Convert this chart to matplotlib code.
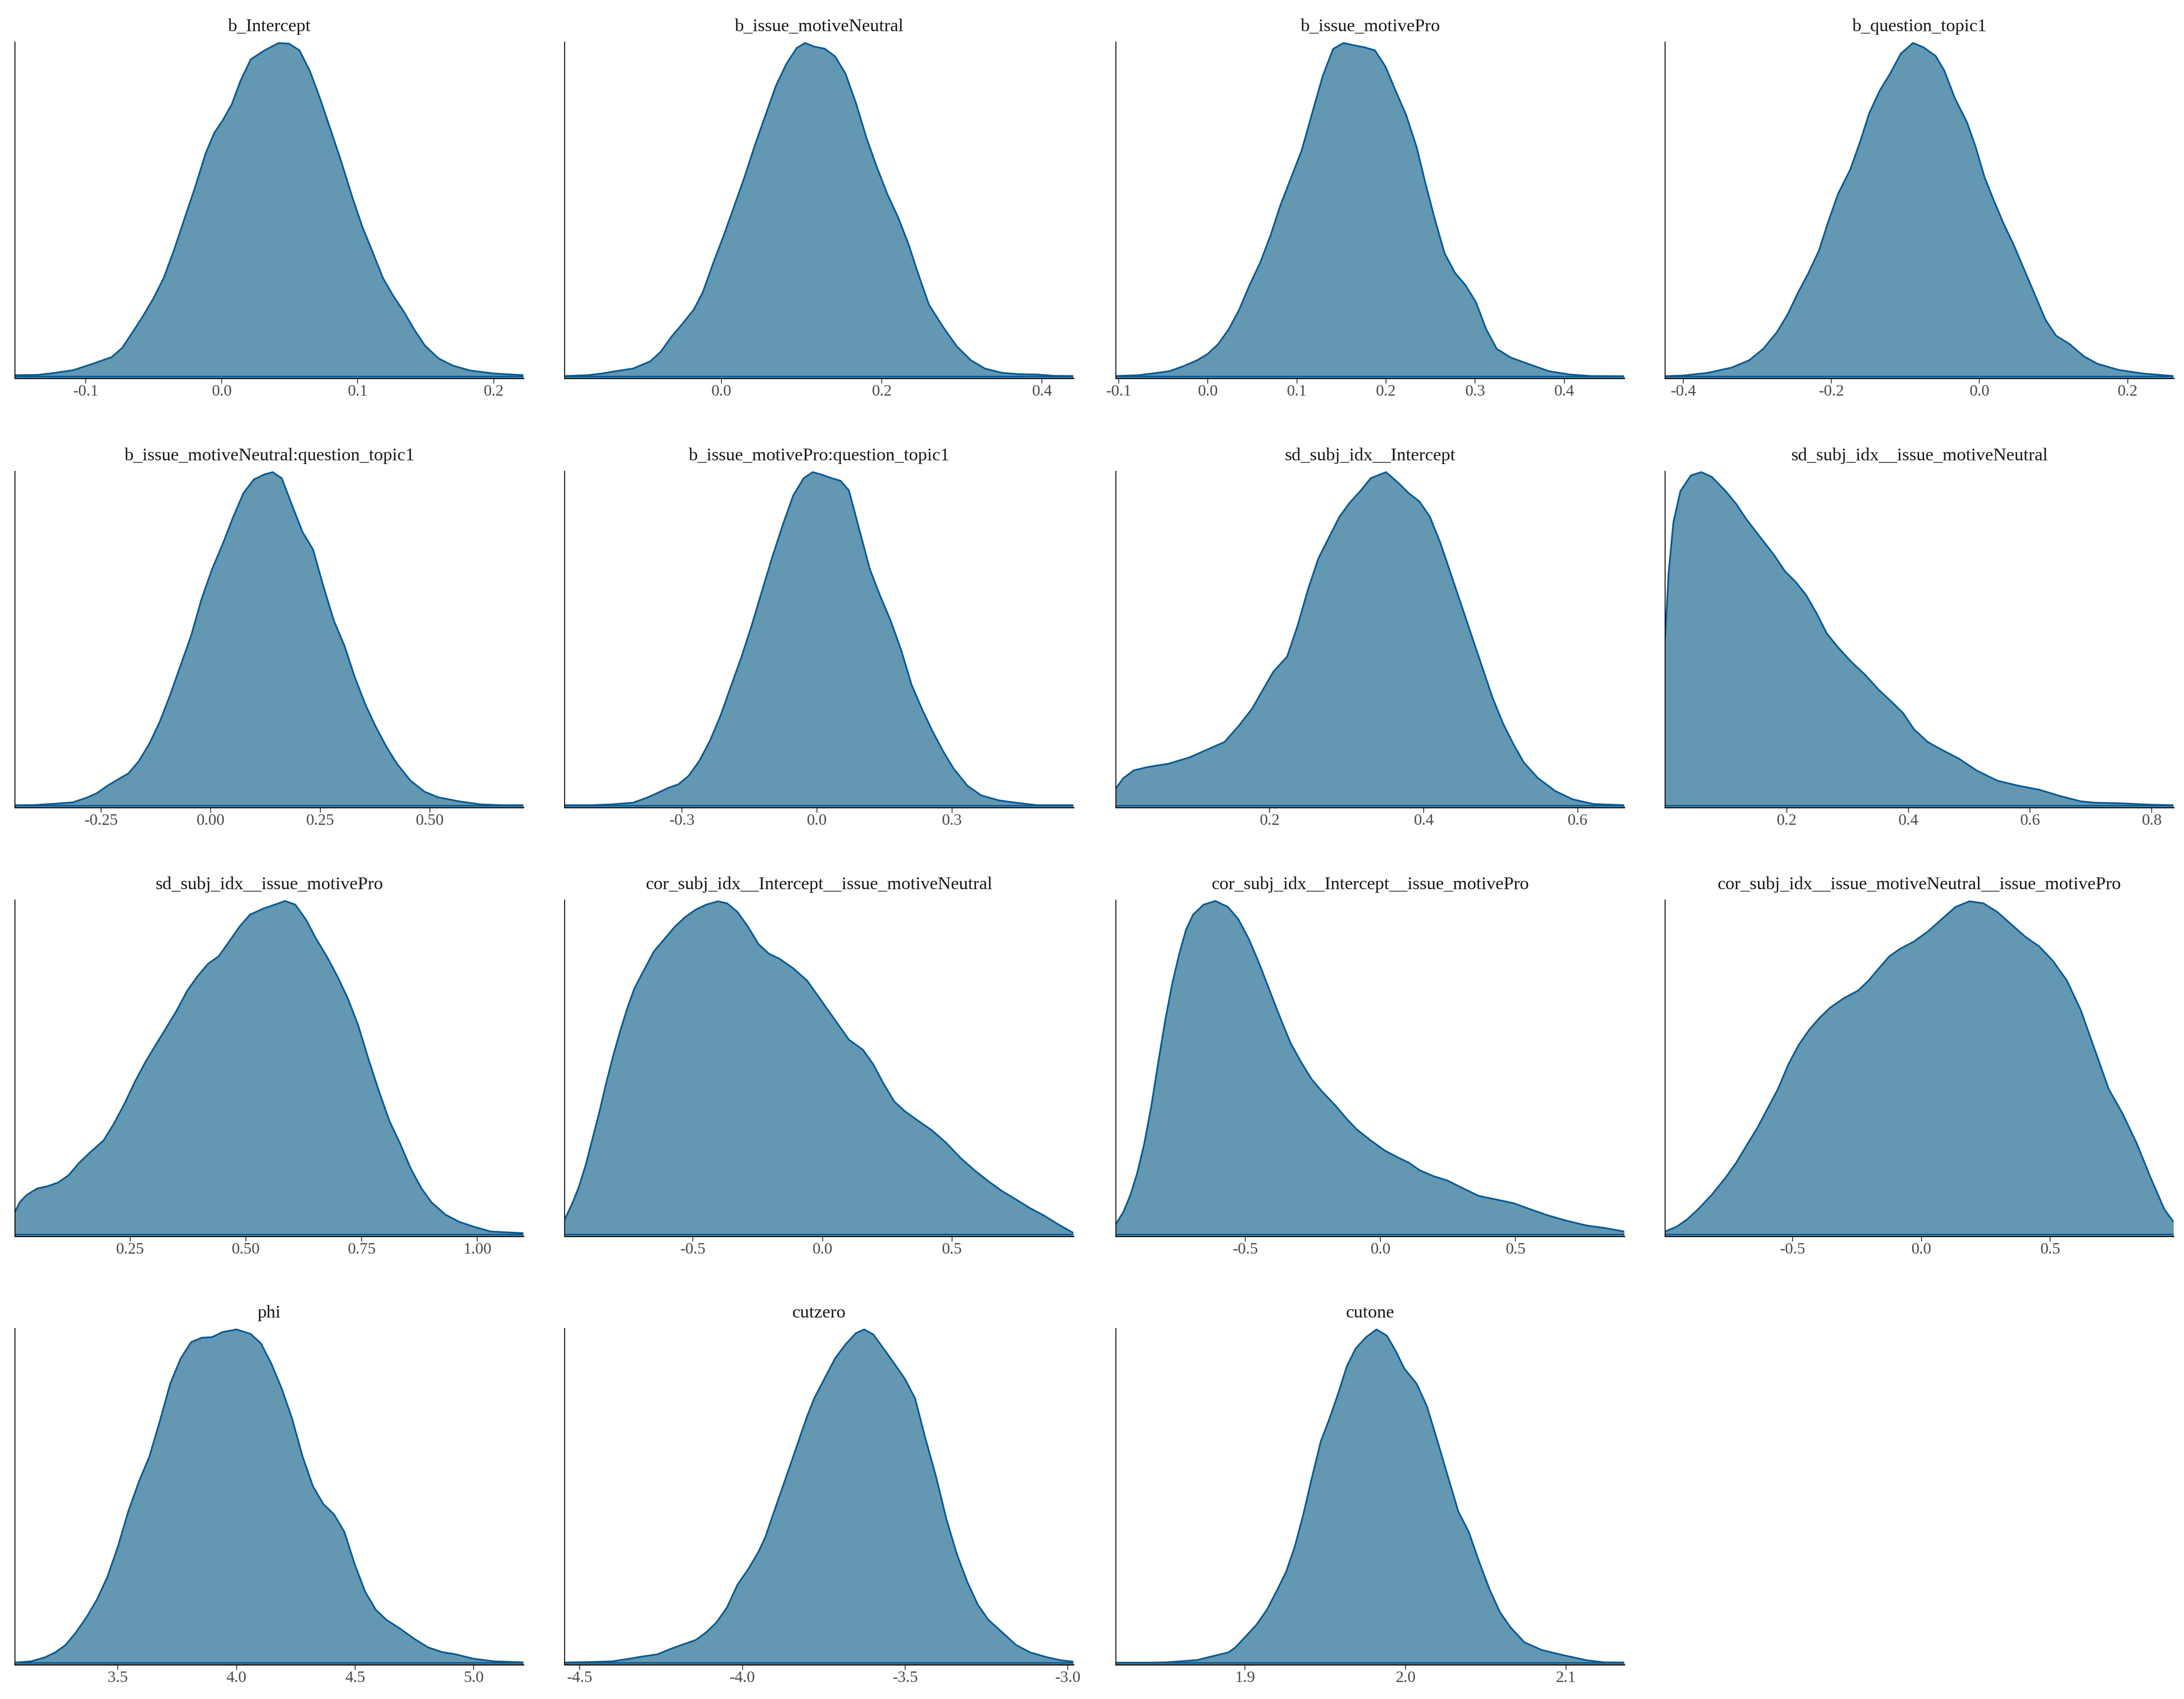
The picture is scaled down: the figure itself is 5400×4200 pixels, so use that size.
import matplotlib
matplotlib.use("Agg")
import matplotlib.pyplot as plt

plt.rcParams['font.family'] = ['Liberation Serif', 'DejaVu Serif']

FILL = "#6497b1"
LINE = "#005b96"

# ---------------- data (x = parameter value, y = relative posterior density) ----------------
b_Intercept_x = [-0.1522, -0.135, -0.1248, -0.1094, -0.0966, -0.0812, -0.0735, -0.0658, -0.0582, -0.0505,
                 -0.0428, -0.0351, -0.0274, -0.0197, -0.012, -0.0056, 0.0008, 0.0072, 0.0136, 0.0213,
                 0.0315, 0.0418, 0.0494, 0.0571, 0.0648, 0.0725, 0.0802, 0.0879, 0.0956, 0.1033,
                 0.111, 0.1186, 0.1263, 0.134, 0.1417, 0.1494, 0.1596, 0.1699, 0.1827, 0.2006, 0.2219]
b_Intercept_y = [0.004, 0.005, 0.01, 0.019, 0.036, 0.058, 0.085, 0.132, 0.18, 0.233,
                 0.295, 0.38, 0.474, 0.567, 0.668, 0.73, 0.769, 0.815, 0.885, 0.951,
                 0.978, 1.0, 0.998, 0.978, 0.916, 0.831, 0.738, 0.644, 0.543, 0.45,
                 0.373, 0.295, 0.241, 0.194, 0.14, 0.093, 0.054, 0.033, 0.018, 0.009, 0.004]

b_issue_motiveNeutral_x = [-0.1957, -0.167, -0.1496, -0.1322, -0.1104, -0.0887, -0.0757, -0.0626, -0.0496, -0.0348,
                           -0.0235, -0.0104, 0.0026, 0.0157, 0.0287, 0.0417, 0.0548, 0.0678, 0.0809, 0.0939,
                           0.1043, 0.1157, 0.1287, 0.1417, 0.1548, 0.1678, 0.1809, 0.1939, 0.207, 0.22,
                           0.233, 0.2461, 0.2591, 0.2765, 0.2939, 0.3113, 0.3287, 0.3504, 0.3722, 0.3939,
                           0.4157, 0.4391]
b_issue_motiveNeutral_y = [0.0015, 0.004, 0.009, 0.016, 0.024, 0.046, 0.075, 0.119, 0.156, 0.2,
                           0.252, 0.34, 0.422, 0.51, 0.598, 0.694, 0.783, 0.871, 0.937, 0.985,
                           1.0, 0.989, 0.983, 0.96, 0.908, 0.82, 0.716, 0.628, 0.547, 0.48,
                           0.4, 0.304, 0.215, 0.149, 0.09, 0.049, 0.024, 0.011, 0.007, 0.006,
                           0.002, 0.0015]

b_issue_motivePro_x = [-0.1031, -0.0781, -0.0625, -0.043, -0.0273, -0.0117, 0.0, 0.0117, 0.0234, 0.0352,
                       0.0469, 0.0586, 0.0703, 0.082, 0.0938, 0.1055, 0.1172, 0.1289, 0.1406, 0.1523,
                       0.1641, 0.1758, 0.1875, 0.1992, 0.2109, 0.2227, 0.2344, 0.2438, 0.2539, 0.2656,
                       0.2773, 0.2891, 0.3008, 0.3125, 0.3242, 0.3398, 0.3594, 0.3828, 0.4063, 0.4297,
                       0.4672]
b_issue_motivePro_y = [0.0015, 0.004, 0.009, 0.016, 0.031, 0.049, 0.068, 0.097, 0.141, 0.2,
                       0.274, 0.34, 0.422, 0.517, 0.598, 0.679, 0.79, 0.9, 0.982, 1.0,
                       0.993, 0.987, 0.978, 0.93, 0.856, 0.783, 0.687, 0.584, 0.48, 0.37,
                       0.311, 0.274, 0.223, 0.141, 0.083, 0.057, 0.038, 0.016, 0.006, 0.0015,
                       0.001]

b_question_topic1_x = [-0.4245, -0.4001, -0.3672, -0.3343, -0.3108, -0.292, -0.2732, -0.2591, -0.2449, -0.2308,
                       -0.2167, -0.205, -0.1909, -0.1744, -0.1603, -0.1486, -0.1345, -0.1204, -0.1063, -0.0898,
                       -0.0757, -0.0592, -0.0475, -0.0334, -0.0169, -0.0052, 0.0066, 0.0183, 0.0324, 0.0465,
                       0.0606, 0.0748, 0.0889, 0.103, 0.1218, 0.1406, 0.1594, 0.1876, 0.2205, 0.2619]
b_question_topic1_y = [0.001, 0.003, 0.011, 0.027, 0.049, 0.083, 0.134, 0.186, 0.252, 0.311,
                       0.378, 0.459, 0.548, 0.621, 0.71, 0.791, 0.858, 0.909, 0.968, 1.0,
                       0.987, 0.961, 0.917, 0.835, 0.762, 0.688, 0.599, 0.533, 0.459, 0.393,
                       0.319, 0.245, 0.171, 0.123, 0.097, 0.061, 0.038, 0.02, 0.009, 0.0015]

b_neutral_topic_x = [-0.4465, -0.402, -0.3544, -0.3146, -0.2829, -0.259, -0.2352, -0.2113, -0.1875, -0.1637,
                     -0.1398, -0.116, -0.0922, -0.0683, -0.0445, -0.0207, 0.0032, 0.027, 0.0509, 0.0747,
                     0.0985, 0.1224, 0.1414, 0.1621, 0.1859, 0.2098, 0.2336, 0.2574, 0.2813, 0.3051,
                     0.3289, 0.3528, 0.3766, 0.4004, 0.4243, 0.4561, 0.4878, 0.5196, 0.5673, 0.615,
                     0.6626, 0.7135]
b_neutral_topic_y = [0.0015, 0.002, 0.006, 0.01, 0.024, 0.038, 0.06, 0.079, 0.097, 0.134,
                     0.186, 0.252, 0.333, 0.422, 0.51, 0.62, 0.709, 0.783, 0.864, 0.937,
                     0.978, 0.993, 1.0, 0.982, 0.9, 0.82, 0.768, 0.657, 0.554, 0.48,
                     0.385, 0.304, 0.237, 0.178, 0.127, 0.075, 0.042, 0.025, 0.013, 0.004,
                     0.0015, 0.0015]

b_pro_topic_x = [-0.5598, -0.501, -0.4546, -0.4082, -0.3773, -0.3541, -0.3309, -0.3077, -0.2845, -0.2613,
                 -0.2381, -0.2149, -0.1917, -0.1685, -0.1454, -0.1222, -0.099, -0.0758, -0.0526, -0.0294,
                 -0.0093, 0.0093, 0.0325, 0.0526, 0.0711, 0.0943, 0.1175, 0.1407, 0.1639, 0.1871,
                 0.2103, 0.2335, 0.2567, 0.2799, 0.3031, 0.334, 0.3649, 0.4036, 0.4422, 0.4886,
                 0.569]
b_pro_topic_y = [0.0015, 0.0015, 0.004, 0.009, 0.024, 0.038, 0.053, 0.064, 0.09, 0.134,
                 0.193, 0.267, 0.355, 0.442, 0.538, 0.643, 0.746, 0.842, 0.93, 0.982,
                 1.0, 0.993, 0.982, 0.974, 0.945, 0.827, 0.709, 0.628, 0.554, 0.466,
                 0.362, 0.289, 0.223, 0.164, 0.112, 0.06, 0.031, 0.016, 0.009, 0.0015,
                 0.0015]

sd_Intercept_x = [0.0, 0.01, 0.0235, 0.0416, 0.0688, 0.0959, 0.1186, 0.1412, 0.1593, 0.1774,
                  0.191, 0.2045, 0.2226, 0.2362, 0.2498, 0.2633, 0.2769, 0.2905, 0.3041, 0.3176,
                  0.3312, 0.3511, 0.3674, 0.381, 0.3946, 0.4081, 0.4217, 0.4353, 0.4489, 0.4624,
                  0.476, 0.4896, 0.5032, 0.5167, 0.5303, 0.5484, 0.571, 0.5937, 0.6208, 0.6606]
sd_Intercept_y = [0.052, 0.083, 0.106, 0.116, 0.126, 0.145, 0.168, 0.191, 0.238, 0.292,
                  0.347, 0.401, 0.447, 0.54, 0.649, 0.742, 0.804, 0.866, 0.909, 0.943,
                  0.982, 1.0, 0.967, 0.936, 0.912, 0.866, 0.788, 0.695, 0.602, 0.509,
                  0.416, 0.323, 0.246, 0.184, 0.129, 0.083, 0.044, 0.019, 0.005, 0.0015]

sd_Neutral_x = [0.0, 0.0057, 0.0137, 0.0252, 0.0424, 0.0595, 0.0767, 0.0996, 0.1168, 0.134,
                0.1569, 0.1798, 0.197, 0.2141, 0.2313, 0.2485, 0.2657, 0.2828, 0.3057, 0.3286,
                0.3515, 0.3744, 0.3916, 0.4088, 0.4317, 0.4546, 0.4832, 0.5118, 0.5462, 0.5806,
                0.6149, 0.6493, 0.6836, 0.7065, 0.7523, 0.7981, 0.8359]
sd_Neutral_y = [0.502, 0.695, 0.85, 0.943, 0.99, 1.0, 0.986, 0.943, 0.905, 0.858,
                0.804, 0.75, 0.703, 0.672, 0.633, 0.579, 0.517, 0.478, 0.432, 0.393,
                0.347, 0.308, 0.277, 0.23, 0.191, 0.168, 0.141, 0.106, 0.075, 0.06,
                0.048, 0.029, 0.013, 0.009, 0.007, 0.003, 0.0015]

sd_Pro_x = [0.0015, 0.012, 0.0271, 0.0497, 0.0723, 0.0949, 0.1175, 0.1401, 0.1627, 0.1928,
            0.2154, 0.238, 0.2605, 0.2831, 0.3057, 0.3283, 0.3509, 0.3735, 0.3961, 0.4187,
            0.4413, 0.4639, 0.4864, 0.509, 0.5392, 0.5648, 0.5843, 0.6069, 0.6295, 0.6521,
            0.6747, 0.6973, 0.7199, 0.7425, 0.7651, 0.7877, 0.8102, 0.8328, 0.8554, 0.878,
            0.9006, 0.9307, 0.9608, 0.991, 1.0286, 1.0994]
sd_Pro_y = [0.068, 0.097, 0.119, 0.138, 0.145, 0.156, 0.178, 0.215, 0.245, 0.282,
            0.333, 0.392, 0.458, 0.517, 0.569, 0.62, 0.672, 0.731, 0.775, 0.812,
            0.834, 0.878, 0.923, 0.959, 0.978, 0.99, 1.0, 0.989, 0.945, 0.886,
            0.834, 0.775, 0.709, 0.628, 0.525, 0.429, 0.34, 0.274, 0.2, 0.141,
            0.097, 0.06, 0.038, 0.024, 0.009, 0.004]

cor_Int_Neutral_x = [-0.9946, -0.9677, -0.9409, -0.914, -0.8871, -0.8602, -0.8333, -0.8065, -0.7796, -0.7527,
                     -0.7258, -0.6909, -0.6505, -0.6102, -0.5699, -0.5296, -0.4892, -0.4489, -0.4032, -0.3683,
                     -0.328, -0.2876, -0.2473, -0.207, -0.1667, -0.1129, -0.0591, -0.0054, 0.0484, 0.1022,
                     0.1559, 0.1962, 0.2366, 0.2769, 0.3172, 0.371, 0.4247, 0.4785, 0.5323, 0.586,
                     0.6398, 0.6935, 0.7473, 0.8011, 0.8548, 0.9086, 0.9677]
cor_Int_Neutral_y = [0.046, 0.09, 0.141, 0.208, 0.289, 0.37, 0.459, 0.54, 0.613, 0.68,
                     0.738, 0.79, 0.849, 0.886, 0.923, 0.952, 0.974, 0.989, 0.999, 0.993,
                     0.967, 0.923, 0.871, 0.842, 0.827, 0.798, 0.761, 0.702, 0.643, 0.584,
                     0.554, 0.51, 0.451, 0.399, 0.37, 0.34, 0.311, 0.274, 0.23, 0.193,
                     0.16, 0.13, 0.105, 0.079, 0.057, 0.031, 0.005]

cor_Int_Pro_x = [-0.9794, -0.951, -0.9253, -0.8995, -0.8737, -0.848, -0.8222, -0.7964, -0.7706, -0.7448,
                 -0.7191, -0.6933, -0.6546, -0.6108, -0.5644, -0.5258, -0.4871, -0.4485, -0.4098, -0.3711,
                 -0.3325, -0.2938, -0.2552, -0.2165, -0.1649, -0.1263, -0.0876, -0.0361, 0.0155, 0.067,
                 0.1057, 0.1443, 0.1959, 0.2474, 0.299, 0.3634, 0.4278, 0.4923, 0.5567, 0.6211,
                 0.6856, 0.7629, 0.8273, 0.902]
cor_Int_Pro_y = [0.031, 0.068, 0.119, 0.186, 0.274, 0.385, 0.517, 0.643, 0.752, 0.841,
                 0.915, 0.959, 0.989, 1.0, 0.982, 0.945, 0.886, 0.812, 0.731, 0.65,
                 0.574, 0.517, 0.466, 0.429, 0.385, 0.348, 0.315, 0.282, 0.252, 0.23,
                 0.215, 0.193, 0.175, 0.162, 0.141, 0.116, 0.105, 0.094, 0.075, 0.057,
                 0.042, 0.027, 0.02, 0.009]

cor_Neutral_Pro_x = [-0.9946, -0.9486, -0.9081, -0.8676, -0.8135, -0.7595, -0.7189, -0.6784, -0.6378, -0.5973,
                     -0.5568, -0.5162, -0.4757, -0.4351, -0.3946, -0.3541, -0.3, -0.2459, -0.2054, -0.1649,
                     -0.1243, -0.0838, -0.0297, 0.0243, 0.0784, 0.1324, 0.1865, 0.2405, 0.2946, 0.3486,
                     0.4027, 0.4568, 0.5108, 0.5649, 0.6189, 0.673, 0.727, 0.7811, 0.8351, 0.8892,
                     0.9432, 0.9784]
cor_Neutral_Pro_y = [0.009, 0.024, 0.046, 0.075, 0.119, 0.171, 0.215, 0.267, 0.318, 0.377,
                     0.436, 0.51, 0.569, 0.614, 0.65, 0.68, 0.709, 0.731, 0.761, 0.798,
                     0.834, 0.856, 0.878, 0.908, 0.945, 0.982, 0.999, 0.993, 0.967, 0.93,
                     0.893, 0.864, 0.82, 0.761, 0.672, 0.554, 0.436, 0.362, 0.274, 0.171,
                     0.075, 0.038]

phi_x = [3.0666, 3.1341, 3.1928, 3.2369, 3.2799, 3.3239, 3.3679, 3.412, 3.456, 3.5,
         3.544, 3.5891, 3.6331, 3.6771, 3.7212, 3.7652, 3.8092, 3.8532, 3.8973, 3.9413,
         4.0, 4.0587, 4.1027, 4.1468, 4.1908, 4.2348, 4.2788, 4.3229, 4.3669, 4.4109,
         4.455, 4.499, 4.543, 4.587, 4.6311, 4.6898, 4.7485, 4.8072, 4.8659, 4.9246,
         4.998, 5.0861, 5.2094]
phi_y = [0.0015, 0.005, 0.017, 0.032, 0.054, 0.092, 0.137, 0.19, 0.258, 0.348,
         0.454, 0.544, 0.619, 0.725, 0.838, 0.913, 0.962, 0.975, 0.977, 0.992,
         1.0, 0.987, 0.959, 0.898, 0.823, 0.732, 0.619, 0.529, 0.476, 0.446,
         0.393, 0.295, 0.213, 0.16, 0.13, 0.103, 0.073, 0.047, 0.033, 0.026,
         0.013, 0.005, 0.002]

cutzero_x = [-4.5457, -4.4644, -4.4002, -4.3467, -4.3039, -4.2611, -4.2183, -4.1755, -4.1434, -4.1113,
             -4.0792, -4.0471, -4.015, -3.9829, -3.9508, -3.9294, -3.908, -3.8866, -3.8652, -3.8438,
             -3.8224, -3.801, -3.7796, -3.7475, -3.7154, -3.6833, -3.6512, -3.6255, -3.5977, -3.5656,
             -3.5335, -3.5014, -3.4693, -3.4372, -3.4051, -3.373, -3.3409, -3.3088, -3.2767, -3.2446,
             -3.2018, -3.159, -3.1162, -3.0627, -3.0199, -2.9835]
cutzero_y = [0.0015, 0.003, 0.005, 0.013, 0.02, 0.026, 0.043, 0.058, 0.069, 0.092,
             0.122, 0.167, 0.235, 0.28, 0.333, 0.378, 0.439, 0.499, 0.559, 0.619,
             0.68, 0.74, 0.793, 0.853, 0.913, 0.955, 0.989, 1.0, 0.985, 0.942,
             0.898, 0.853, 0.793, 0.672, 0.559, 0.431, 0.326, 0.243, 0.175, 0.13,
             0.092, 0.054, 0.032, 0.017, 0.008, 0.004]

cutone_x = [1.8195, 1.8377, 1.8508, 1.8594, 1.8703, 1.8811, 1.8898, 1.8941, 1.9007, 1.9072,
            1.9137, 1.9202, 1.9256, 1.931, 1.9364, 1.9419, 1.9473, 1.9527, 1.9581, 1.9636,
            1.969, 1.9755, 1.982, 1.9885, 1.9939, 1.9993, 2.0069, 2.0134, 2.02, 2.0265,
            2.033, 2.0395, 2.046, 2.0525, 2.059, 2.0655, 2.0742, 2.085, 2.098, 2.1132,
            2.1241, 2.1364]
cutone_y = [0.001, 0.001, 0.002, 0.005, 0.009, 0.022, 0.032, 0.047, 0.081, 0.115,
            0.16, 0.22, 0.273, 0.348, 0.446, 0.559, 0.665, 0.733, 0.808, 0.891,
            0.943, 0.977, 1.0, 0.981, 0.936, 0.883, 0.838, 0.77, 0.665, 0.559,
            0.454, 0.393, 0.303, 0.22, 0.152, 0.107, 0.062, 0.039, 0.024, 0.008,
            0.002, 0.0015]

titles = ["b_Intercept", "b_issue_motiveNeutral", "b_issue_motivePro", "b_question_topic1",
          "b_issue_motiveNeutral:question_topic1", "b_issue_motivePro:question_topic1",
          "sd_subj_idx__Intercept", "sd_subj_idx__issue_motiveNeutral",
          "sd_subj_idx__issue_motivePro", "cor_subj_idx__Intercept__issue_motiveNeutral",
          "cor_subj_idx__Intercept__issue_motivePro", "cor_subj_idx__issue_motiveNeutral__issue_motivePro",
          "phi", "cutzero", "cutone"]

xs = [b_Intercept_x, b_issue_motiveNeutral_x, b_issue_motivePro_x, b_question_topic1_x,
      b_neutral_topic_x, b_pro_topic_x, sd_Intercept_x, sd_Neutral_x,
      sd_Pro_x, cor_Int_Neutral_x, cor_Int_Pro_x, cor_Neutral_Pro_x,
      phi_x, cutzero_x, cutone_x]
ys = [b_Intercept_y, b_issue_motiveNeutral_y, b_issue_motivePro_y, b_question_topic1_y,
      b_neutral_topic_y, b_pro_topic_y, sd_Intercept_y, sd_Neutral_y,
      sd_Pro_y, cor_Int_Neutral_y, cor_Int_Pro_y, cor_Neutral_Pro_y,
      phi_y, cutzero_y, cutone_y]

tick_values = [[-0.1, 0.0, 0.1, 0.2], [0.0, 0.2, 0.4], [-0.1, 0.0, 0.1, 0.2, 0.3, 0.4], [-0.4, -0.2, 0.0, 0.2],
               [-0.25, 0.0, 0.25, 0.5], [-0.3, 0.0, 0.3], [0.2, 0.4, 0.6], [0.2, 0.4, 0.6, 0.8],
               [0.25, 0.5, 0.75, 1.0], [-0.5, 0.0, 0.5], [-0.5, 0.0, 0.5], [-0.5, 0.0, 0.5],
               [3.5, 4.0, 4.5, 5.0], [-4.5, -4.0, -3.5, -3.0], [1.9, 2.0, 2.1]]
tick_labels = [["-0.1", "0.0", "0.1", "0.2"], ["0.0", "0.2", "0.4"], ["-0.1", "0.0", "0.1", "0.2", "0.3", "0.4"],
               ["-0.4", "-0.2", "0.0", "0.2"], ["-0.25", "0.00", "0.25", "0.50"], ["-0.3", "0.0", "0.3"],
               ["0.2", "0.4", "0.6"], ["0.2", "0.4", "0.6", "0.8"], ["0.25", "0.50", "0.75", "1.00"],
               ["-0.5", "0.0", "0.5"], ["-0.5", "0.0", "0.5"], ["-0.5", "0.0", "0.5"],
               ["3.5", "4.0", "4.5", "5.0"], ["-4.5", "-4.0", "-3.5", "-3.0"], ["1.9", "2.0", "2.1"]]

# ---------------- layout ----------------
fig = plt.figure(figsize=(18, 14), dpi=300)
lefts = [0.00685, 0.2586, 0.5109, 0.7624]
bottoms = [0.7774, 0.5248, 0.2724, 0.0202]
W, H = 0.2328, 0.1979

for i, (title, x, y) in enumerate(zip(titles, xs, ys)):
    r, c = divmod(i, 4)
    ax = fig.add_axes([lefts[c], bottoms[r], W, H])
    ax.fill_between(x, 0, y, color=FILL, linewidth=0, zorder=1)
    ax.plot(x, y, color=LINE, lw=1.0, zorder=2, solid_joinstyle='round', solid_capstyle='round')
    ax.plot([x[0], x[-1]], [0, 0], color=LINE, lw=1.0, zorder=2)
    ax.set_xlim(x[0], x[-1])
    ax.set_ylim(-0.005, 1.003)
    ax.set_yticks([])
    ax.set_xticks(tick_values[i])
    ax.set_xticklabels(tick_labels[i])
    ax.tick_params(axis='x', length=3.0, width=0.5, color='#333333', pad=0.6,
                   labelsize=9.6, labelcolor='#4D4D4D')
    for s in ['top', 'right']:
        ax.spines[s].set_visible(False)
    ax.spines['left'].set_linewidth(0.55)
    ax.spines['bottom'].set_linewidth(0.8)
    ax.spines['left'].set_color('black')
    ax.spines['bottom'].set_color('black')
    ax.set_title(title, fontsize=10.8, color='#1A1A1A', pad=6.5)
    ax.patch.set_visible(False)

fig.savefig("out.png", dpi=300, facecolor='white')
